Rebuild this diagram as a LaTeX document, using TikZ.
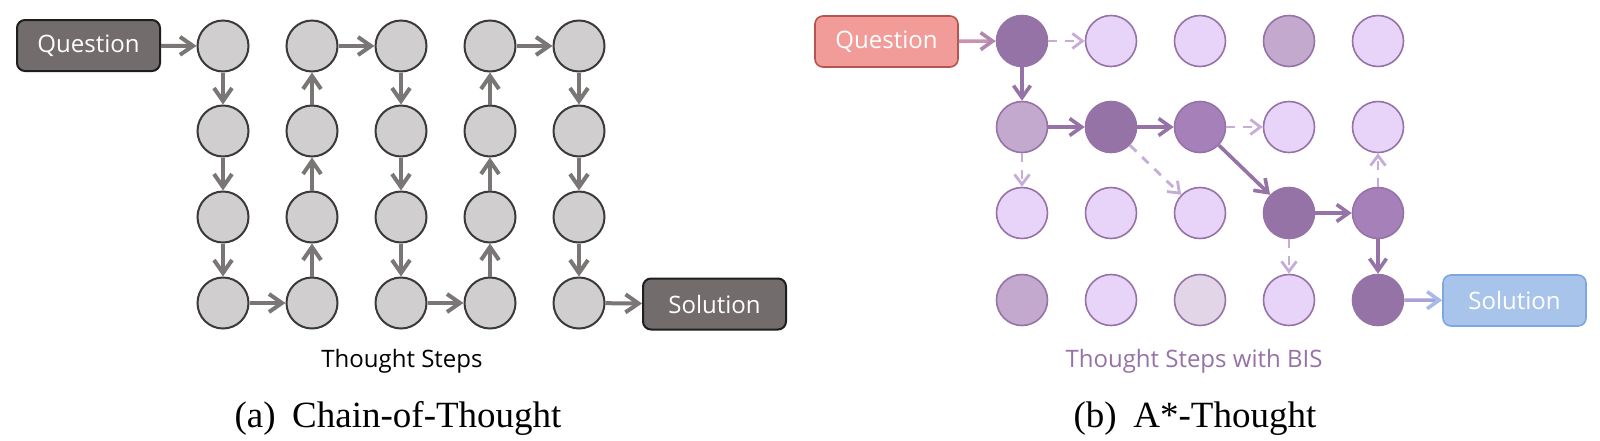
\documentclass[tikz,border=0pt]{standalone}
\usepackage{fontspec}
\setmainfont{Liberation Serif}
\newfontfamily\hand{Open Sans}
\usetikzlibrary{arrows.meta}
\definecolor{cgfill}{HTML}{D0CECE}
\definecolor{cgdraw}{HTML}{3A3A3A}
\definecolor{cgarrow}{HTML}{7A7676}
\definecolor{cbox}{HTML}{726D6C}
\definecolor{cboxd}{HTML}{1E1E1E}
\definecolor{pdark}{HTML}{9673A6}
\definecolor{pmid}{HTML}{A680B8}
\definecolor{pmed}{HTML}{C3A9CD}
\definecolor{plight}{HTML}{E8D4F8}
\definecolor{pgray}{HTML}{E1D5E7}
\definecolor{pdash}{HTML}{C6ACD8}
\definecolor{qfill}{HTML}{F19C99}
\definecolor{qdraw}{HTML}{B85450}
\definecolor{sfill}{HTML}{A9C4EB}
\definecolor{sdraw}{HTML}{7EA6E0}
\definecolor{qarr}{HTML}{C992B0}
\definecolor{qtip}{HTML}{B386AE}
\definecolor{sarr}{HTML}{A9A2D6}
\definecolor{stip}{HTML}{A8BBE8}
\tikzset{
  dot/.style={circle, inner sep=0pt, minimum size=25.5pt},
  gdot/.style={dot, fill=cgfill, draw=cgdraw, line width=1pt},
  pdot/.style={dot, fill=#1, draw=pdark, line width=0.8pt},
  hbox/.style={rounded corners=4pt, minimum width=71.5pt, minimum height=25.5pt,
    inner sep=0pt, text=white, font=\hand\fontsize{12}{14}\selectfont},
  garr/.style={draw=cgarrow, line width=2pt, -{Straight Barb[length=6.5pt,width=9pt]}},
  parr/.style={draw=pdark, line width=1.8pt, -{Straight Barb[length=6pt,width=8.5pt]}},
  darr/.style={draw=pdash, line width=1.4pt, dash pattern=on 4.5pt off 4pt,
    -{Straight Barb[length=5pt,width=7.5pt]}},
  hlabel/.style={anchor=base, font=\hand\fontsize{12}{14}\selectfont},
  caplabel/.style={anchor=base, font=\fontsize{18.5}{21}\selectfont}
}
\begin{document}
\begin{tikzpicture}[x=0.5pt,y=-0.5pt]
\useasboundingbox (0,0) rectangle (1600,440);
\fill[white] (0,0) rectangle (1600,440);

% ---------- (a) Chain-of-Thought ----------
\foreach \c/\x in {1/223,2/312,3/401,4/490,5/579}
  \foreach \r/\y in {1/46,2/131,3/217,4/303}
    \node[gdot] (a-\r-\c) at (\x,\y) {};
\node[hbox, fill=cbox, draw=cboxd, line width=1pt] (aq) at (88.5,45.5) {Question};
\node[hbox, fill=cbox, draw=cboxd, line width=1pt] (as) at (714.5,304) {Solution};

\draw[garr] (aq) -- (a-1-1);
\draw[garr] (a-1-1) -- (a-2-1);
\draw[garr] (a-2-1) -- (a-3-1);
\draw[garr] (a-3-1) -- (a-4-1);
\draw[garr] (a-4-1) -- (a-4-2);
\draw[garr] (a-4-2) -- (a-3-2);
\draw[garr] (a-3-2) -- (a-2-2);
\draw[garr] (a-2-2) -- (a-1-2);
\draw[garr] (a-1-2) -- (a-1-3);
\draw[garr] (a-1-3) -- (a-2-3);
\draw[garr] (a-2-3) -- (a-3-3);
\draw[garr] (a-3-3) -- (a-4-3);
\draw[garr] (a-4-3) -- (a-4-4);
\draw[garr] (a-4-4) -- (a-3-4);
\draw[garr] (a-3-4) -- (a-2-4);
\draw[garr] (a-2-4) -- (a-1-4);
\draw[garr] (a-1-4) -- (a-1-5);
\draw[garr] (a-1-5) -- (a-2-5);
\draw[garr] (a-2-5) -- (a-3-5);
\draw[garr] (a-3-5) -- (a-4-5);
\draw[garr] (a-4-5) -- (as);

\node[hlabel] (alab) at (402,367) {Thought Steps};
\node[caplabel] (acap) at (398,427) {(a)\hspace{0.45em}Chain-of-Thought};

% ---------- (b) A*-Thought ----------
% row 1
\node[pdot=pdark]  (b-1-1) at (1022,41) {};
\node[pdot=plight] (b-1-2) at (1111,41) {};
\node[pdot=plight] (b-1-3) at (1200,41) {};
\node[pdot=pmed]   (b-1-4) at (1289,41) {};
\node[pdot=plight] (b-1-5) at (1378,41) {};
% row 2
\node[pdot=pmed]   (b-2-1) at (1022,127) {};
\node[pdot=pdark]  (b-2-2) at (1111,127) {};
\node[pdot=pmid]   (b-2-3) at (1200,127) {};
\node[pdot=plight] (b-2-4) at (1289,127) {};
\node[pdot=plight] (b-2-5) at (1378,127) {};
% row 3
\node[pdot=plight] (b-3-1) at (1022,213) {};
\node[pdot=plight] (b-3-2) at (1111,213) {};
\node[pdot=plight] (b-3-3) at (1200,213) {};
\node[pdot=pdark]  (b-3-4) at (1289,213) {};
\node[pdot=pmid]   (b-3-5) at (1378,213) {};
% row 4
\node[pdot=pmed]   (b-4-1) at (1022,300) {};
\node[pdot=plight] (b-4-2) at (1111,300) {};
\node[pdot=pgray]  (b-4-3) at (1200,300) {};
\node[pdot=plight] (b-4-4) at (1289,300) {};
\node[pdot=pdark]  (b-4-5) at (1378,300) {};

\node[hbox, fill=qfill, draw=qdraw, line width=0.8pt] (bq) at (886.5,41.5) {Question};
\node[hbox, fill=sfill, draw=sdraw, line width=0.8pt] (bs) at (1514.5,300.5) {Solution};

\draw[draw=qarr, line width=1.8pt, -{Straight Barb[length=6pt,width=8.5pt,color=qtip]}] (bq) -- (b-1-1);
\draw[darr] (b-1-1) -- (b-1-2);
\draw[parr] (b-1-1) -- (b-2-1);
\draw[darr] (b-2-1) -- (b-3-1);
\draw[parr] (b-2-1) -- (b-2-2);
\draw[parr] (b-2-2) -- (b-2-3);
\draw[darr] (b-2-2) -- (b-3-3);
\draw[darr] (b-2-3) -- (b-2-4);
\draw[parr] (b-2-3) -- (b-3-4);
\draw[parr] (b-3-4) -- (b-3-5);
\draw[darr] (b-3-4) -- (b-4-4);
\draw[darr] (b-3-5) -- (b-2-5);
\draw[parr] (b-3-5) -- (b-4-5);
\draw[draw=sarr, line width=1.8pt, -{Straight Barb[length=6pt,width=8.5pt,color=stip]}] (b-4-5) -- (bs);

\node[hlabel, text=pdark] (blab) at (1194,367) {Thought Steps with BIS};
\node[caplabel] (bcap) at (1195,427) {(b)\hspace{0.45em}A*-Thought};
\end{tikzpicture}
\end{document}
